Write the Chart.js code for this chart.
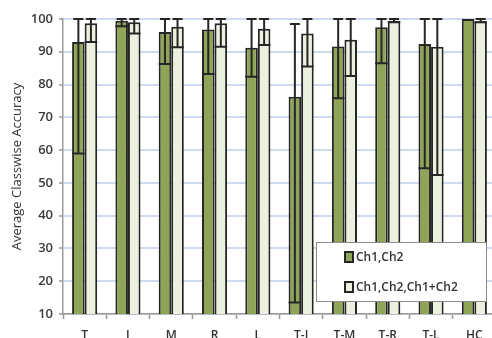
<!DOCTYPE html>
<html>
<head>
<meta charset="utf-8">
<script src="https://cdn.jsdelivr.net/npm/chart.js@4/dist/chart.umd.min.js"></script>
<style>
  html, body { margin: 0; padding: 0; background: #fff; overflow: hidden; }
  #wrap { position: relative; width: 496px; height: 338px; }
</style>
</head>
<body>
<div id="wrap"><canvas id="c" width="496" height="338"></canvas></div>
<script>
// Classes recognised
const categories = ['T', 'I', 'M', 'R', 'L', 'T-I', 'T-M', 'T-R', 'T-L', 'HC'];

// Ch1,Ch2 features: mean accuracy and error range
const ch12 = [93.0, 99.5, 96.0, 96.8, 91.2, 76.3, 91.6, 97.5, 92.4, 100];
const ch12Low = [59.0, 97.8, 86.3, 83.2, 82.4, 13.5, 75.8, 86.5, 54.5, 100];
const ch12High = [100, 100, 100, 100, 100, 98.5, 100, 100, 100, 100];

// Ch1,Ch2,Ch1+Ch2 features: mean accuracy and error range
const ch12sum = [98.7, 99.0, 97.6, 98.7, 97.0, 95.6, 93.7, 99.5, 91.5, 99.3];
const ch12sumLow = [93.0, 95.6, 91.4, 91.5, 92.1, 85.5, 82.6, 99.0, 52.4, 99.0];
const ch12sumHigh = [100, 100, 100, 100, 100, 100, 100, 100, 100, 100];

const yTicks = [10, 20, 30, 40, 50, 60, 70, 80, 90, 100];

const INK = '#262626';

// Error bars: vertical stroke from low to high, cap on top, bar-wide stroke at low end
const errorBars = {
  id: 'errorBars',
  afterDatasetsDraw(chart) {
    const ctx = chart.ctx;
    const y = chart.scales.y;
    chart.data.datasets.forEach((ds, di) => {
      const meta = chart.getDatasetMeta(di);
      meta.data.forEach((bar, i) => {
        const lo = ds.errLow[i], hi = ds.errHigh[i];
        if (lo === hi) return;
        const x = bar.x;
        const yLo = y.getPixelForValue(lo);
        const yHi = y.getPixelForValue(hi);
        const half = bar.width / 2;
        ctx.save();
        ctx.strokeStyle = INK;
        ctx.lineWidth = 2;
        ctx.beginPath();
        ctx.moveTo(x, yLo);
        ctx.lineTo(x, yHi);
        ctx.moveTo(x - 5, yHi);
        ctx.lineTo(x + 5, yHi);
        ctx.moveTo(x - half, yLo);
        ctx.lineTo(x + half, yLo);
        ctx.stroke();
        ctx.restore();
      });
    });
  }
};

// Boxed legend inside the plot area
const boxLegend = {
  id: 'boxLegend',
  afterDraw(chart) {
    const ctx = chart.ctx;
    const bx = 316.5, by = 242.5, bw = 170, bh = 59;
    ctx.save();
    ctx.fillStyle = '#ffffff';
    ctx.fillRect(bx, by, bw, bh);
    ctx.strokeStyle = '#8a8a8a';
    ctx.lineWidth = 1;
    ctx.strokeRect(bx, by, bw, bh);
    const rows = [257, 287];
    chart.data.datasets.forEach((ds, i) => {
      const cy = rows[i];
      ctx.fillStyle = ds.backgroundColor;
      ctx.fillRect(345, cy - 5, 8, 10);
      ctx.strokeStyle = INK;
      ctx.lineWidth = 2;
      ctx.strokeRect(345, cy - 5, 8, 10);
      ctx.fillStyle = '#333333';
      ctx.font = '600 12px "Open Sans"';
      ctx.textBaseline = 'middle';
      ctx.textAlign = 'left';
      ctx.fillText(ds.label, 356, cy + 1);
    });
    ctx.restore();
  }
};

new Chart(document.getElementById('c'), {
  type: 'bar',
  data: {
    labels: categories,
    datasets: [
      {
        label: 'Ch1,Ch2',
        data: ch12,
        errLow: ch12Low,
        errHigh: ch12High,
        backgroundColor: '#8fa457',
        borderColor: INK,
        borderWidth: 2,
        borderSkipped: false
      },
      {
        label: 'Ch1,Ch2,Ch1+Ch2',
        data: ch12sum,
        errLow: ch12sumLow,
        errHigh: ch12sumHigh,
        backgroundColor: '#ebf1de',
        borderColor: INK,
        borderWidth: 2,
        borderSkipped: false
      }
    ]
  },
  options: {
    responsive: false,
    animation: false,
    devicePixelRatio: 1,
    layout: { padding: { top: 19, right: 0, left: 0, bottom: 0 } },
    datasets: { bar: { categoryPercentage: 0.58, barPercentage: 1.0 } },
    plugins: {
      legend: { display: false },
      tooltip: { enabled: false }
    },
    scales: {
      x: {
        offset: true,
        grid: {
          offset: true,
          drawOnChartArea: false,
          drawTicks: true,
          tickLength: 5,
          tickColor: '#9a9a9a',
          tickWidth: 1.5
        },
        border: { color: '#9a9a9a', width: 1.5 },
        ticks: {
          color: '#333333',
          font: { family: 'Open Sans', size: 12, weight: '600' },
          padding: 9,
          maxRotation: 0,
          autoSkip: false
        },
        afterFit(scale) { scale.height = 24; }
      },
      y: {
        min: 10,
        max: 100,
        afterBuildTicks(scale) { scale.ticks = yTicks.map(v => ({ value: v })); },
        grid: {
          color: '#cfdaee',
          lineWidth: 2,
          drawTicks: true,
          tickLength: 4,
          tickColor: '#9a9a9a',
          tickWidth: 1.5
        },
        border: { color: '#9a9a9a', width: 1.5 },
        ticks: {
          color: '#3a3a3a',
          font: { family: 'Open Sans', size: 13, weight: '600' },
          padding: 6
        },
        title: {
          display: true,
          text: 'Average Classwise Accuracy',
          color: '#333333',
          font: { family: 'Open Sans', size: 13 },
          padding: { top: 9, bottom: 0 }
        },
        afterFit(scale) { scale.width = 63; }
      }
    }
  },
  plugins: [errorBars, boxLegend]
});
</script>
</body>
</html>
